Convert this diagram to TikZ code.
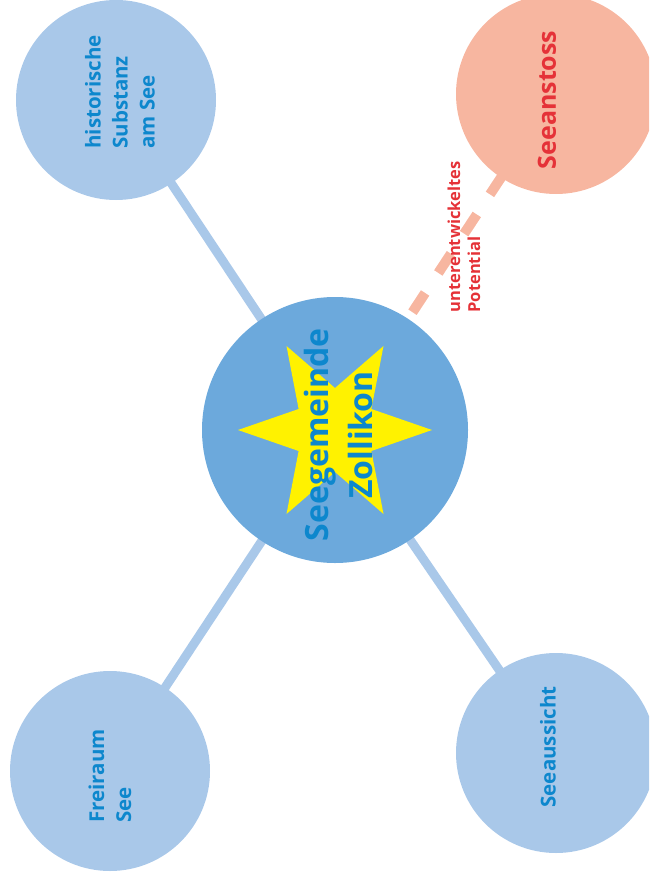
\documentclass[tikz,border=0pt]{standalone}
\usepackage{fontspec}
\setmainfont{Open Sans}
\usetikzlibrary{backgrounds}
\definecolor{bubble}{RGB}{169,200,233}
\definecolor{corefill}{RGB}{108,169,220}
\definecolor{txtblue}{RGB}{13,135,205}
\definecolor{salmon}{RGB}{247,182,160}
\definecolor{txtred}{RGB}{229,50,56}
\definecolor{staryellow}{RGB}{255,242,0}
\tikzset{
  ball/.style={circle, fill=bubble, minimum size=200pt, inner sep=0pt},
  lbl/.style={rotate=90, align=left, inner sep=0pt, text=txtblue, font=\bfseries\fontsize{20.5}{27}\selectfont},
  conn/.style={draw=bubble, line width=9pt},
}
\begin{document}
\begin{tikzpicture}[x=1pt,y=-1pt]
\useasboundingbox (0,0) rectangle (649,880);
\clip (0,0) rectangle (649,880);
\node[ball] (hist) at (116,100) {};
\node[ball, fill=salmon] (stoss) at (556,94) {};
\node[ball] (frei) at (110,771) {};
\node[ball] (sicht) at (556,753) {};
\node[circle, fill=corefill, minimum size=266pt, inner sep=0pt] (core) at (335,430) {};
\begin{scope}[on background layer]
  \draw[conn] (hist.center) -- (core.center);
  \draw[conn] (frei.center) -- (core.center);
  \draw[conn] (sicht.center) -- (core.center);
  \draw[draw=salmon, line width=10pt, dash pattern=on 23pt off 24pt] (core.center) -- (stoss.center);
\end{scope}
\fill[staryellow, shift={(core.center)}] (0:97) -- (30:42) -- (60:97) -- (90:42) -- (120:97) -- (150:42) -- (180:97) -- (210:42) -- (240:97) -- (270:42) -- (300:97) -- (330:42) -- cycle;
\node[lbl] (histtxt) at (120,92) {historische\\Substanz\\am See};
\node[lbl] (freitxt) at (110,776) {Freiraum\\See};
\node[lbl] (sichttxt) at (548,747) {Seeaussicht};
\node[lbl, align=center, font=\bfseries\fontsize{32}{44}\selectfont] (coretxt) at (338,435) {Seegemeinde\\Zollikon};
\node[lbl, text=txtred, font=\bfseries\fontsize{25}{30}\selectfont] (stosstxt) at (547,100) {Seeanstoss};
\node[lbl, text=txtred, font=\bfseries\fontsize{16.5}{20}\selectfont] (pottxt) at (464,237) {unterentwickeltes\\Potential};
\end{tikzpicture}
\end{document}
